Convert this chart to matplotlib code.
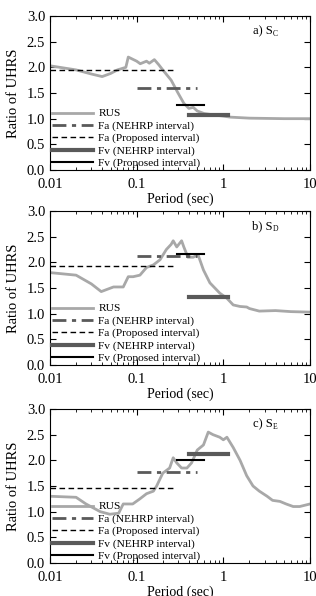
import matplotlib
matplotlib.use("Agg")
import matplotlib.pyplot as plt
from matplotlib.ticker import FixedLocator, FixedFormatter, LogLocator, NullFormatter

plt.rcParams['font.family'] = ['Liberation Serif', 'DejaVu Serif']
plt.rcParams['mathtext.fontset'] = 'custom'
plt.rcParams['mathtext.rm'] = 'Liberation Serif'

# ---- data ----
panel_labels = ["a) S", "b) S", "c) S"]
panel_subs = ["C", "D", "E"]

rus_a_T = [0.01, 0.02, 0.03, 0.04, 0.05, 0.06, 0.075, 0.08, 0.1, 0.11, 0.13, 0.14, 0.16, 0.18,
           0.2, 0.25, 0.3, 0.35, 0.4, 0.45, 0.5, 0.6, 0.8, 1.0, 1.2, 2.0, 5.0, 10.0]
rus_a_R = [2.03, 1.95, 1.87, 1.82, 1.88, 1.95, 2.0, 2.2, 2.12, 2.07, 2.12, 2.08, 2.15, 2.05,
           1.95, 1.75, 1.5, 1.3, 1.2, 1.22, 1.15, 1.1, 1.07, 1.05, 1.03, 1.01, 1.0, 1.0]

rus_b_T = [0.01, 0.02, 0.03, 0.039, 0.054, 0.07, 0.08, 0.091, 0.109, 0.13, 0.156, 0.186, 0.22,
           0.25, 0.264, 0.29, 0.33, 0.35, 0.39, 0.45, 0.51, 0.59, 0.7, 0.91, 1.1, 1.3, 1.56,
           1.86, 2.0, 2.6, 4.0, 6.0, 10.0]
rus_b_R = [1.8, 1.75, 1.58, 1.43, 1.52, 1.52, 1.72, 1.72, 1.75, 1.9, 1.95, 2.05, 2.25,
           2.35, 2.42, 2.3, 2.42, 2.3, 2.1, 2.1, 2.15, 1.85, 1.6, 1.4, 1.3, 1.17, 1.14,
           1.13, 1.1, 1.05, 1.06, 1.04, 1.03]

rus_c_T = [0.01, 0.02, 0.026, 0.038, 0.049, 0.062, 0.07, 0.09, 0.109, 0.13, 0.156, 0.17, 0.2,
           0.24, 0.264, 0.29, 0.33, 0.38, 0.43, 0.5, 0.59, 0.67, 0.76, 0.91, 1.0, 1.1, 1.3,
           1.56, 1.86, 2.2, 2.6, 3.2, 3.7, 4.5, 5.3, 6.4, 7.6, 10.0]
rus_c_R = [1.3, 1.28, 1.15, 1.0, 0.95, 0.97, 1.15, 1.15, 1.25, 1.35, 1.4, 1.5, 1.75,
           1.85, 2.05, 1.95, 1.85, 1.85, 1.95, 2.2, 2.3, 2.55, 2.5, 2.45, 2.4, 2.45, 2.25,
           2.0, 1.7, 1.5, 1.4, 1.3, 1.22, 1.2, 1.15, 1.1, 1.1, 1.15]

# interval lines: (T start, T end, value)
fa_nehrp = [(0.1, 0.5, 1.6), (0.1, 0.5, 2.13), (0.1, 0.5, 1.78)]
fa_prop = [(0.01, 0.28, 1.94), (0.01, 0.28, 1.93), (0.01, 0.28, 1.47)]
fv_nehrp = [(0.4, 1.12, 1.065), (0.4, 1.12, 1.32), (0.4, 1.12, 2.13)]
fv_prop = [(0.29, 0.6, 1.26), (0.29, 0.6, 2.17), (0.29, 0.6, 2.0)]

rus_T = [rus_a_T, rus_b_T, rus_c_T]
rus_R = [rus_a_R, rus_b_R, rus_c_R]

xticks = [0.01, 0.1, 1, 10]
xticklabels = ["0.01", "0.1", "1", "10"]
yticks = [0.0, 0.5, 1.0, 1.5, 2.0, 2.5, 3.0]

W, H = 316, 596
fig = plt.figure(figsize=(W / 100, H / 100), dpi=100)

tops = [16, 211, 409]
ax_h = 154
for i in range(3):
    ax = fig.add_axes([50 / W, 1 - (tops[i] + ax_h) / H, 260 / W, ax_h / H])
    ax.plot(rus_T[i], rus_R[i], color='#a8a8a8', lw=2, label='RUS', zorder=2)
    s, e, v = fa_nehrp[i]
    ax.plot([s, e], [v, v], color='#5a5a5a', lw=2, ls=(0, (5, 2, 1.5, 2)),
            label='Fa (NEHRP interval)', zorder=3)
    s, e, v = fa_prop[i]
    ax.plot([s, e], [v, v], color='black', lw=1, ls=(0, (4, 2.5)),
            label='Fa (Proposed interval)', zorder=3)
    s, e, v = fv_nehrp[i]
    ax.plot([s, e], [v, v], color='#5a5a5a', lw=3, label='Fv (NEHRP interval)', zorder=3)
    s, e, v = fv_prop[i]
    ax.plot([s, e], [v, v], color='black', lw=1.5, label='Fv (Proposed interval)', zorder=4)

    ax.set_xscale('log')
    ax.set_xlim(0.01, 10)
    ax.set_ylim(0, 3.0)
    ax.xaxis.set_major_locator(FixedLocator(xticks))
    ax.xaxis.set_major_formatter(FixedFormatter(xticklabels))
    ax.xaxis.set_minor_locator(LogLocator(base=10, subs=range(2, 10)))
    ax.xaxis.set_minor_formatter(NullFormatter())
    ax.set_yticks(yticks)
    ax.set_yticklabels([f"{v:.1f}" for v in yticks])
    ax.tick_params(which='both', direction='in', top=True, right=True, labelsize=10.5)
    ax.tick_params(which='major', length=4, width=0.8)
    ax.tick_params(which='minor', length=2.5, width=0.6)
    ax.tick_params(axis='x', pad=6)
    ax.set_xlabel('Period (sec)', fontsize=10, labelpad=1)
    ax.set_ylabel('Ratio of UHRS', fontsize=10.5, labelpad=5)

    ax.text(0.855, 0.90, panel_labels[i], transform=ax.transAxes, fontsize=9,
            ha='right', va='center')
    ax.text(0.855, 0.885, panel_subs[i], transform=ax.transAxes, fontsize=5.5,
            ha='left', va='center')

    ax.legend(loc='lower left', bbox_to_anchor=(0.0, -0.005), frameon=False,
              fontsize=8.2, handlelength=3.6, handletextpad=0.45, labelspacing=0.2,
              borderaxespad=0.0, borderpad=0.2)

fig.savefig('out.png', dpi=100)
